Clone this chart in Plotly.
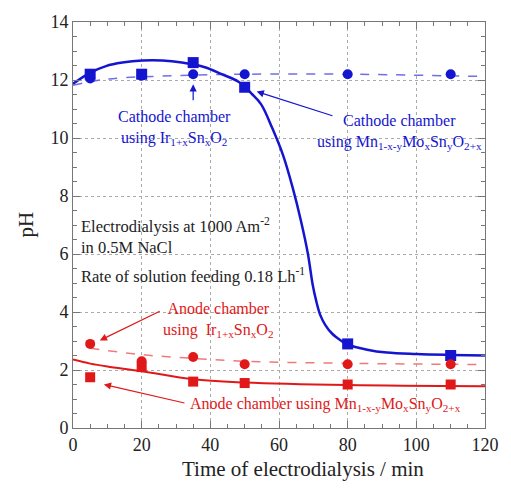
import plotly.graph_objects as go

# Sampling times (min)
t = [5, 20, 35, 50, 80, 110]

# Measured pH
cathode_ir = [12.05, 12.15, 12.2, 12.2, 12.2, 12.2]
cathode_mn = [12.2, 12.2, 12.6, 11.75, 2.9, 2.5]
anode_ir = [2.9, 2.3, 2.45, 2.2, 2.2, 2.2]
anode_mn = [1.75, 2.1, 1.6, 1.55, 1.5, 1.5]

# Fitted trend lines
cathode_mn_fit_t = [0, 4.8, 9.6, 14.4, 20.2, 26, 31.7, 38.4, 43.3, 48.2, 52, 54.8, 58,
                    61.2, 64, 66.4, 68.4, 69.8, 70.8, 72, 73.5, 75.5, 78, 80, 85.7, 91.4, 100, 110, 120]
cathode_mn_fit = [11.87, 12.24, 12.48, 12.6, 12.67, 12.67, 12.6, 12.44, 12.2, 11.94, 11.53, 11.16, 10.35,
                  9.4, 8.28, 7.14, 6.02, 4.95, 4.4, 3.9, 3.55, 3.25, 3.02, 2.88, 2.7, 2.6, 2.55, 2.52, 2.5]
cathode_ir_fit_t = [0, 10, 30, 50, 80, 120]
cathode_ir_fit = [11.82, 12.03, 12.15, 12.2, 12.2, 12.12]
anode_mn_fit_t = [0, 5, 10, 20, 35, 50, 80, 120]
anode_mn_fit = [2.36, 2.22, 2.12, 1.96, 1.68, 1.57, 1.48, 1.44]
anode_ir_fit_t = [5, 20, 35, 50, 80, 120]
anode_ir_fit = [2.75, 2.53, 2.4, 2.3, 2.23, 2.19]

BLUE = "#1515d0"
BLUE_L = "#6f6fe6"
RED = "#e01818"
RED_L = "#f07a7a"
INK = "#222222"
FONT = "Liberation Serif, Times New Roman, Times, DejaVu Serif, serif"

fig = go.Figure()

# Trend lines
fig.add_trace(go.Scatter(x=cathode_ir_fit_t, y=cathode_ir_fit, mode="lines",
                         line=dict(color=BLUE_L, width=1.5, dash="dash", shape="spline")))
fig.add_trace(go.Scatter(x=cathode_mn_fit_t, y=cathode_mn_fit, mode="lines",
                         line=dict(color=BLUE, width=2.5, shape="spline", smoothing=1.0)))
fig.add_trace(go.Scatter(x=anode_ir_fit_t, y=anode_ir_fit, mode="lines",
                         line=dict(color=RED_L, width=1.5, dash="dash", shape="spline")))
fig.add_trace(go.Scatter(x=anode_mn_fit_t, y=anode_mn_fit, mode="lines",
                         line=dict(color=RED, width=2, shape="spline")))

# Measured points
fig.add_trace(go.Scatter(x=t, y=cathode_ir, mode="markers",
                         marker=dict(symbol="circle", size=10, color=BLUE)))
fig.add_trace(go.Scatter(x=t, y=cathode_mn, mode="markers",
                         marker=dict(symbol="square", size=11, color=BLUE)))
fig.add_trace(go.Scatter(x=t, y=anode_ir, mode="markers",
                         marker=dict(symbol="circle", size=10, color=RED)))
fig.add_trace(go.Scatter(x=t, y=anode_mn, mode="markers",
                         marker=dict(symbol="square", size=10, color=RED)))

ann = []
def label(x, y, text, color, align="center", size=16, xanchor="center"):
    ann.append(dict(x=x, y=y, xref="x", yref="y", text=text, showarrow=False,
                    font=dict(family=FONT, size=size, color=color),
                    align=align, xanchor=xanchor, yanchor="middle"))

def arrow(x, y, ax, ay, color):
    ann.append(dict(x=x, y=y, xref="x", yref="y", ax=ax, ay=ay, axref="x", ayref="y",
                    text="", showarrow=True, arrowhead=2, arrowsize=1.2,
                    arrowwidth=1.2, arrowcolor=color))

label(29.7, 10.35, "Cathode chamber<br>using Ir<sub>1+x</sub>Sn<sub>x</sub>O<sub>2</sub>", BLUE)
arrow(t[2], cathode_ir[2] - 0.35, t[2], 11.25, BLUE)
label(95, 10.2, "Cathode chamber<br>using Mn<sub>1-x-y</sub>Mo<sub>x</sub>Sn<sub>y</sub>O<sub>2+x</sub>", BLUE)
arrow(t[3] + 3.5, cathode_mn[3] - 0.15, 76, 10.75, BLUE)

label(1.7, 6.62, "Electrodialysis at 1000 Am<sup>-2</sup><br>in 0.5M NaCl", INK,
      align="left", xanchor="left", size=16.5)
label(1.7, 5.27, "Rate of solution feeding 0.18 Lh<sup>-1</sup>", INK,
      align="left", xanchor="left", size=16.5)

label(42.3, 3.72, "Anode chamber<br>using  Ir<sub>1+x</sub>Sn<sub>x</sub>O<sub>2</sub>", RED)
arrow(t[0] + 2.8, anode_ir[0] + 0.12, 25.7, 4.05, RED)
label(73.5, 0.8, "Anode chamber using Mn<sub>1-x-y</sub>Mo<sub>x</sub>Sn<sub>y</sub>O<sub>2+x</sub>", RED)
arrow(t[0] + 4, anode_mn[0] - 0.25, 32.9, 0.85, RED)

# Axis titles
ann.append(dict(x=0.558, y=-0.101, xref="paper", yref="paper", showarrow=False,
                text="Time of electrodialysis / min", xanchor="center", yanchor="middle",
                font=dict(family=FONT, size=21, color=INK)))
ann.append(dict(x=-0.115, y=0.5, xref="paper", yref="paper", showarrow=False,
                text="pH", textangle=-90, xanchor="center", yanchor="middle",
                font=dict(family=FONT, size=21, color=INK)))

axis_common = dict(
    showline=True, linecolor="#777777", linewidth=1, mirror="ticks",
    ticks="inside", ticklen=7, tickcolor="#777777",
    showgrid=True, gridcolor="#aaaaaa", griddash="dot", gridwidth=1,
    zeroline=False, tickfont=dict(family=FONT, size=18, color=INK),
)

fig.update_xaxes(range=[0, 120], dtick=20, **axis_common,
                 minor=dict(dtick=5, ticks="inside", ticklen=4, tickcolor="#777777", showgrid=False))
fig.update_yaxes(range=[0, 14], dtick=2, **axis_common,
                 minor=dict(dtick=0.5, ticks="inside", ticklen=4, tickcolor="#777777", showgrid=False))

fig.update_layout(
    width=511, height=488,
    margin=dict(l=73, r=22, t=14, b=60),
    paper_bgcolor="white", plot_bgcolor="white",
    font=dict(family=FONT),
    showlegend=False, annotations=ann,
)

fig.write_html("out.html")
